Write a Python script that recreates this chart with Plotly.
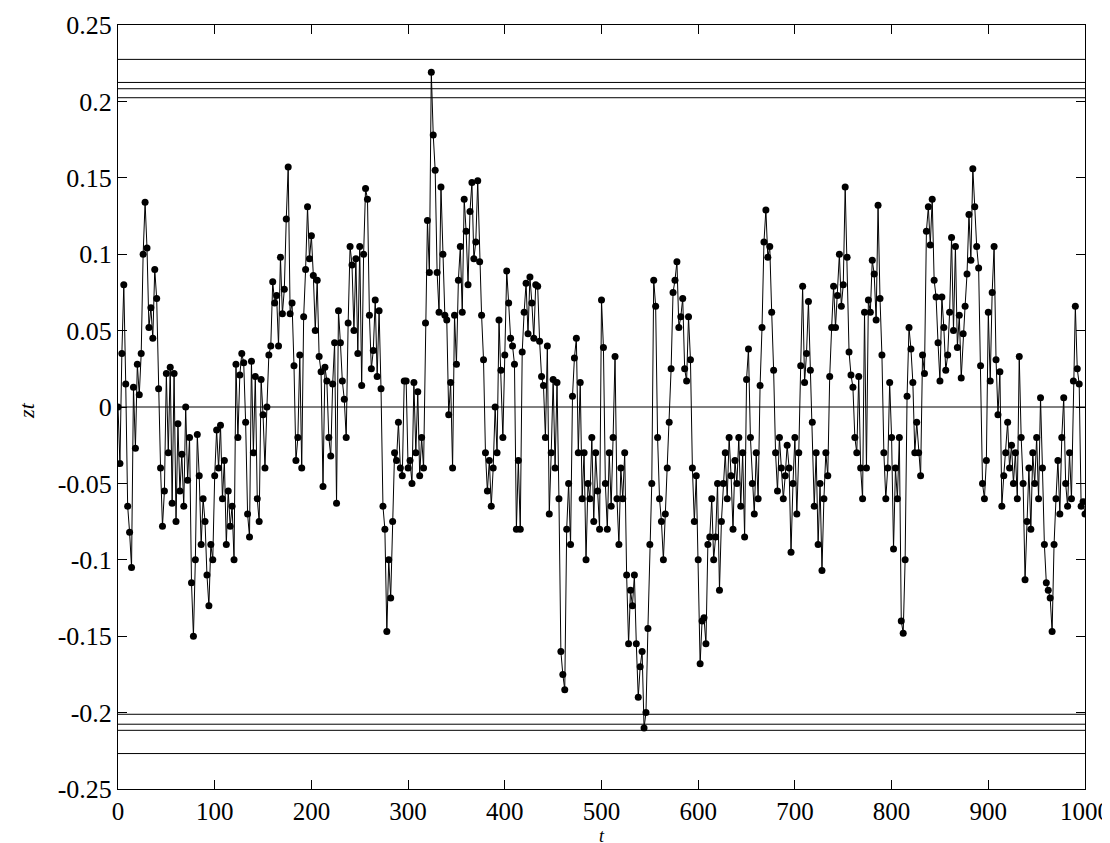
import plotly.graph_objects as go

# sampled series z_t (read every 2 time steps)
t_step = 2
z_values = [
    0.0, -0.037, 0.035, 0.08, 0.015, -0.065, -0.082, -0.105, 0.013, -0.027,
    0.028, 0.008, 0.035, 0.1, 0.134, 0.104, 0.052, 0.065, 0.045, 0.09,
    0.071, 0.012, -0.04, -0.078, -0.055, 0.022, -0.03, 0.026, -0.063, 0.022,
    -0.075, -0.011, -0.055, -0.031, -0.065, 0.0, -0.048, -0.02, -0.115, -0.15,
    -0.1, -0.018, -0.045, -0.09, -0.06, -0.075, -0.11, -0.13, -0.09, -0.1,
    -0.045, -0.015, -0.04, -0.012, -0.06, -0.035, -0.09, -0.055, -0.078, -0.065,
    -0.1, 0.028, -0.02, 0.021, 0.035, 0.029, -0.01, -0.07, -0.085, 0.03,
    -0.03, 0.02, -0.06, -0.075, 0.018, -0.005, -0.04, 0.0, 0.034, 0.04,
    0.082, 0.068, 0.073, 0.04, 0.098, 0.061, 0.077, 0.123, 0.157, 0.061,
    0.068, 0.027, -0.035, -0.02, 0.034, -0.04, 0.059, 0.09, 0.131, 0.097,
    0.112, 0.086, 0.05, 0.083, 0.033, 0.023, -0.052, 0.026, 0.017, -0.02,
    -0.032, 0.015, 0.042, -0.063, 0.063, 0.042, 0.017, 0.005, -0.02, 0.055,
    0.105, 0.093, 0.05, 0.097, 0.035, 0.105, 0.014, 0.1, 0.143, 0.136,
    0.06, 0.025, 0.037, 0.07, 0.02, 0.063, 0.012, -0.065, -0.08, -0.147,
    -0.1, -0.125, -0.075, -0.03, -0.035, -0.01, -0.04, -0.045, 0.017, 0.017,
    -0.04, -0.035, -0.05, 0.016, -0.03, 0.01, -0.045, -0.02, -0.04, 0.055,
    0.122, 0.088, 0.219, 0.178, 0.155, 0.088, 0.062, 0.144, 0.1, 0.06,
    0.057, -0.005, 0.016, -0.04, 0.06, 0.028, 0.083, 0.105, 0.062, 0.136,
    0.115, 0.08, 0.128, 0.147, 0.097, 0.108, 0.148, 0.095, 0.06, 0.031,
    -0.03, -0.055, -0.035, -0.065, -0.04, 0.0, -0.03, 0.057, 0.024, -0.02,
    0.034, 0.089, 0.068, 0.045, 0.04, 0.028, -0.08, -0.035, -0.08, 0.036,
    0.062, 0.081, 0.048, 0.085, 0.068, 0.045, 0.08, 0.079, 0.043, 0.02,
    0.014, -0.02, 0.04, -0.07, -0.03, 0.018, -0.04, 0.016, -0.06, -0.16,
    -0.175, -0.185, -0.08, -0.05, -0.09, 0.007, 0.032, 0.045, -0.03, 0.016,
    -0.06, -0.03, -0.1, -0.05, -0.06, -0.02, -0.075, -0.03, -0.055, -0.08,
    0.07, 0.039, -0.05, -0.08, -0.03, -0.065, -0.02, 0.033, -0.06, -0.09,
    -0.04, -0.06, -0.03, -0.11, -0.155, -0.12, -0.13, -0.11, -0.155, -0.19,
    -0.17, -0.16, -0.21, -0.2, -0.145, -0.09, -0.05, 0.083, 0.066, -0.02,
    -0.06, -0.075, -0.1, -0.07, -0.04, -0.01, 0.025, 0.075, 0.083, 0.095,
    0.052, 0.059, 0.071, 0.025, 0.017, 0.059, 0.031, -0.04, -0.075, -0.045,
    -0.1, -0.168, -0.14, -0.138, -0.155, -0.09, -0.085, -0.06, -0.1, -0.085,
    -0.05, -0.12, -0.075, -0.05, -0.03, -0.06, -0.02, -0.045, -0.08, -0.035,
    -0.05, -0.02, -0.065, -0.03, -0.085, 0.018, 0.038, -0.02, -0.05, -0.07,
    -0.03, -0.06, 0.014, 0.052, 0.108, 0.129, 0.098, 0.105, 0.062, 0.024,
    -0.03, -0.055, -0.02, -0.04, -0.06, -0.045, -0.025, -0.04, -0.095, -0.05,
    -0.02, -0.07, -0.03, 0.027, 0.079, 0.016, 0.035, 0.069, 0.024, -0.01,
    -0.065, -0.03, -0.09, -0.05, -0.107, -0.06, -0.03, -0.045, 0.02, 0.052,
    0.079, 0.052, 0.073, 0.1, 0.066, 0.08, 0.144, 0.098, 0.036, 0.021,
    0.013, -0.02, -0.03, 0.02, -0.04, -0.06, 0.062, -0.04, 0.07, 0.062,
    0.096, 0.087, 0.057, 0.132, 0.071, 0.034, -0.03, -0.06, -0.04, 0.016,
    -0.02, -0.093, -0.04, -0.06, -0.02, -0.14, -0.148, -0.1, 0.007, 0.052,
    0.038, 0.016, -0.03, -0.01, -0.03, -0.045, 0.034, 0.022, 0.115, 0.131,
    0.106, 0.136, 0.083, 0.072, 0.042, 0.017, 0.072, 0.052, 0.024, 0.034,
    0.062, 0.111, 0.05, 0.105, 0.039, 0.06, 0.019, 0.048, 0.066, 0.087,
    0.126, 0.096, 0.156, 0.131, 0.105, 0.091, 0.027, -0.05, -0.06, -0.035,
    0.062, 0.017, 0.075, 0.105, 0.031, -0.005, 0.023, -0.065, -0.045, -0.03,
    -0.01, -0.04, -0.025, -0.05, -0.03, -0.06, 0.033, -0.02, -0.05, -0.113,
    -0.075, -0.04, -0.08, -0.03, -0.05, -0.02, -0.06, 0.006, -0.04, -0.09,
    -0.115, -0.12, -0.125, -0.147, -0.09, -0.06, -0.035, -0.07, -0.02, 0.006,
    -0.05, -0.065, -0.03, -0.06, 0.017, 0.066, 0.025, 0.015, -0.065, -0.062,
    -0.07,
]
t_values = [i * t_step for i in range(len(z_values))]

# horizontal reference lines
upper_levels = [0.2275, 0.2124, 0.2083, 0.2024]
lower_levels = [-0.2011, -0.2076, -0.2116, -0.2268]
zero_level = [0.0]

x_ticks = [0, 100, 200, 300, 400, 500, 600, 700, 800, 900, 1000]
y_ticks = [-0.25, -0.2, -0.15, -0.1, -0.05, 0, 0.05, 0.1, 0.15, 0.2, 0.25]
y_tick_text = ["-0.25", "-0.2", "-0.15", "-0.1", "-0.05", "0", "0.05", "0.1", "0.15", "0.2", "0.25"]

fig = go.Figure()

for lvl in upper_levels + lower_levels + zero_level:
    fig.add_trace(go.Scatter(x=[x_ticks[0], x_ticks[-1]], y=[lvl, lvl], mode="lines",
                             line=dict(color="black", width=1), hoverinfo="skip",
                             showlegend=False))

fig.add_trace(go.Scatter(x=t_values, y=z_values, mode="lines+markers",
                         line=dict(color="black", width=1),
                         marker=dict(color="black", size=7, symbol="circle"),
                         showlegend=False))

font_family = "Liberation Serif, Times New Roman, serif"
fig.update_layout(
    width=1110, height=843,
    margin=dict(l=110, r=33, t=17, b=62, autoexpand=False),
    paper_bgcolor="white", plot_bgcolor="white",
    font=dict(family=font_family, size=25, color="black"),
    showlegend=False,
    annotations=[
        dict(text="<i>t</i>", xref="paper", yref="paper", x=0.5, y=-0.062,
             xanchor="center", yanchor="middle", showarrow=False, borderpad=0,
             font=dict(size=18, family=font_family)),
        dict(text="<i>zt</i>", xref="paper", yref="paper", x=-0.094, y=0.495,
             xanchor="center", yanchor="middle", showarrow=False, textangle=-90,
             borderpad=0, font=dict(size=22, family=font_family)),
    ],
)
fig.update_xaxes(range=[0, 1000], tickvals=x_ticks, ticks="inside", ticklen=9,
                 tickcolor="black", showline=True, linecolor="black", linewidth=1,
                 mirror="ticks", showgrid=False, zeroline=False, automargin=False,
                 tickfont=dict(size=25))
fig.update_yaxes(range=[-0.25, 0.25], tickvals=y_ticks, ticktext=y_tick_text,
                 ticks="inside", ticklen=9, tickcolor="black", showline=True,
                 linecolor="black", linewidth=1, mirror="ticks", showgrid=False,
                 zeroline=False, automargin=False, tickfont=dict(size=26))

fig.write_html("out.html")
